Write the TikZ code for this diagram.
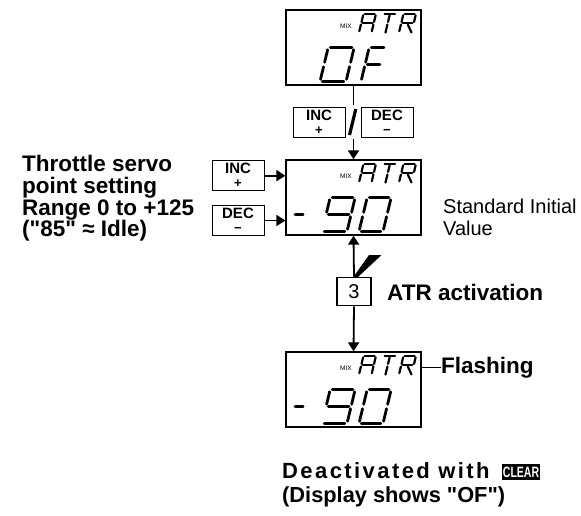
\documentclass[tikz,border=0pt]{standalone}
\usepackage{fontspec}
\setmainfont{Liberation Sans}
\newfontfamily\widebold[LetterSpace=11]{Liberation Sans}
\usetikzlibrary{arrows.meta}
\tikzset{
  lcd/.style={draw=black, line width=1.3pt, minimum width=135pt, minimum height=75pt, inner sep=0pt},
  keybox/.style={draw, line width=1pt, minimum width=52pt, minimum height=30pt, inner sep=0pt, align=center, font=\fontsize{15}{11}\selectfont\bfseries},
  conn/.style={line width=1.8pt},
  arr/.style={line width=1.8pt, -{Triangle[length=9pt,width=11pt]}},
  seg/.style={line width=2.4pt, line cap=round},
  lbl/.style={font=\fontsize{22.5}{22.5}\selectfont\bfseries, inner sep=0pt, anchor=base west},
  plainlbl/.style={font=\fontsize{20}{20}\selectfont, inner sep=0pt, anchor=base west},
  mixlbl/.style={font=\fontsize{6.5}{6.5}\selectfont, inner sep=0pt},
}
\newcommand\keyplus{{\fontsize{13}{13}\selectfont\bfseries +}}
\newcommand\keyminus{{\fontsize{13}{13}\selectfont\bfseries −}}
% seven segment helpers (local coords: y up, origin bottom-left)
\newcommand\sgA{\draw[seg] (\dG,\dH) -- ({\dW-\dG},\dH);}
\newcommand\sgB{\draw[seg] (\dW,{\dH-\dG}) -- (\dW,{\dH/2+\dG});}
\newcommand\sgC{\draw[seg] (\dW,{\dH/2-\dG}) -- (\dW,\dG);}
\newcommand\sgD{\draw[seg] (\dG,0) -- ({\dW-\dG},0);}
\newcommand\sgE{\draw[seg] (0,\dG) -- (0,{\dH/2-\dG});}
\newcommand\sgF{\draw[seg] (0,{\dH/2+\dG}) -- (0,{\dH-\dG});}
\newcommand\sgG{\draw[seg] (\dG,{\dH/2}) -- ({\dW-\dG},{\dH/2});}
\newcommand\lcdchar[4]{%
  \begin{scope}[shift={(#1,#2)},x=1pt,y=1pt,xslant=0.24]
    \def\dW{#3}#4
  \end{scope}}
\newcommand\bigdigits{\def\dH{34}\def\dG{2.2}\tikzset{seg/.style={line width=2.8pt, line cap=round}}}
\newcommand\smalldigits{\def\dH{18.5}\def\dG{1.3}\tikzset{seg/.style={line width=2.2pt, line cap=round}}}
% MIX ATR header, #1 = box top y, #2 = node name
\newcommand\atrhead[2]{%
  \node[mixlbl] (#2) at (346,#1+16) {MIX};
  \begin{scope}\smalldigits
    \lcdchar{359}{#1+22.5}{12.5}{\sgA\sgB\sgC\sgE\sgF\sgG}
    \lcdchar{379}{#1+22.5}{13}{\draw[seg] (\dG,\dH) -- ({\dW-\dG},\dH);
      \draw[seg] ({\dW/2},{\dH-\dG}) -- ({\dW/2},{\dH/2+\dG});
      \draw[seg] ({\dW/2},{\dH/2-\dG}) -- ({\dW/2},0);}
    \lcdchar{399}{#1+22.5}{12.5}{\sgA\sgB\sgE\sgF\sgG
      \draw[seg] ({\dW*0.55},{\dH/2-\dG}) -- (\dW,0);}
  \end{scope}}
% "-90" display, #1 = box bottom y
\newcommand\minusninety[1]{%
  \begin{scope}\bigdigits
    \lcdchar{291}{#1-3.5}{8}{\draw[seg] (0,{\dH/2}) -- (8,{\dH/2});}
    \lcdchar{322}{#1-3.5}{25}{\sgA\sgB\sgC\sgD\sgF\sgG}
    \lcdchar{359}{#1-3.5}{24}{\sgA\sgB\sgC\sgD\sgE\sgF}
  \end{scope}}
\begin{document}
\begin{tikzpicture}[x=1pt,y=-1pt]
\useasboundingbox (0,0) rectangle (581,516);

% displays
\node[lcd] (box1) at (353.5,47.5) {};
\node[lcd] (box2) at (353.5,197.5) {};
\node[lcd] (box3) at (353.5,389.5) {};

\atrhead{10}{mix1}
\atrhead{160}{mix2}
\atrhead{352}{mix3}

\begin{scope}\bigdigits
  \lcdchar{320}{81.5}{26}{\sgA\sgB\sgC\sgD\sgE\sgF}
  \lcdchar{361}{81.5}{17}{\sgA\sgE\sgF\sgG}
\end{scope}
\minusninety{235}
\minusninety{427}

% INC / DEC between box1 and box2
\node[keybox] (inc1) at (319,122.5) {INC\\[3pt]\keyplus};
\node[keybox] (dec1) at (387,122.5) {DEC\\[3pt]\keyminus};
\coordinate (s1) at (353.5,105);
\coordinate (s2) at (353.5,139);
\draw[conn] (box1.south) -- (s1);
\draw[line width=3.2pt] (349.5,135) -- (355.8,109);
\draw[arr] (s2) -- (box2.north);

% left INC / DEC
\node[keybox] (inc2) at (238,175.7) {INC\\[3pt]\keyplus};
\node[keybox] (dec2) at (238,220.5) {DEC\\[3pt]\keyminus};
\draw[arr] (inc2.east) -- (inc2.east -| box2.west);
\draw[arr] (dec2.east) -- (dec2.east -| box2.west);

% left text
\node[lbl] (t1) at (22,171.7) {Throttle servo};
\node[lbl] (t2) at (22,193.4) {point setting};
\node[lbl] (t3) at (22,215) {Range 0 to +125};
\node[lbl] (t4) at (22,236.7) {(\textquotedbl 85\textquotedbl{} ≈ Idle)};

% right text
\node[plainlbl] (s1t) at (443,213.5) {Standard Initial};
\node[plainlbl] (s2t) at (443,235.5) {Value};

% switch 3
\node[draw, line width=1.3pt, minimum width=34pt, minimum height=28pt, inner sep=0pt, font=\fontsize{20}{20}\selectfont] (three) at (354,291.7) {3};
\draw[arr] (three.north) -- (box2.south);
\fill (353,277.5) -- (369,255) -- (381.5,255) -- (357.5,277.5) -- cycle;
\draw[arr] (three.south) -- (box3.north);
\node[lbl] (act) at (387,300) {ATR activation};

% flashing
\node[lbl] (flash) at (441,373) {Flashing};
\draw[line width=1.3pt] (box3.east |- flash.west) -- (flash.west);

% bottom text
\node[lbl, font=\fontsize{22}{22}\selectfont\widebold\bfseries] (d1) at (282,478.3) {Deactivated with};
\node[fill=black, text=white, minimum width=38.5pt, minimum height=16pt, inner sep=0pt, font=\bfseries] (clr) at (521,472) {\scalebox{0.7}[1]{\fontsize{15}{15}\selectfont CLEAR}};
\node[lbl, font=\fontsize{21.8}{21.8}\selectfont\bfseries] (d2) at (282,502.7) {(Display shows \textquotedbl OF\textquotedbl)};
\end{tikzpicture}
\end{document}
